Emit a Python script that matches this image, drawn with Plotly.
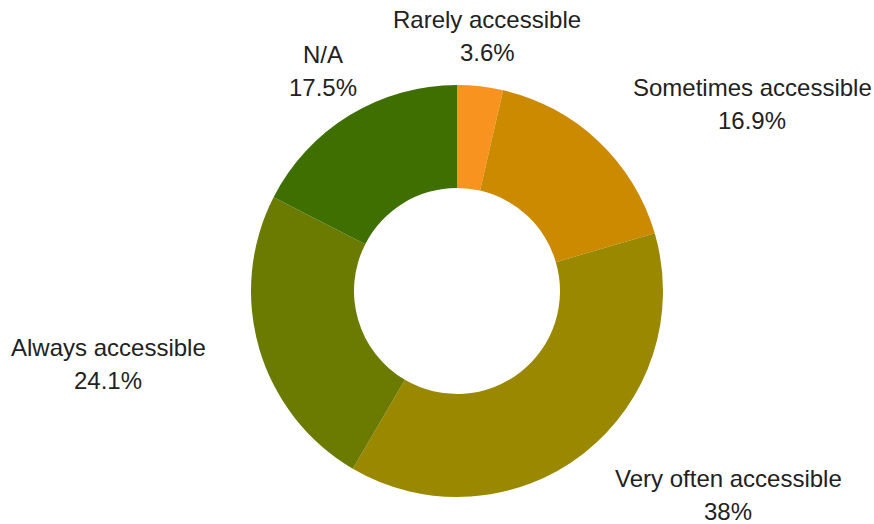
import plotly.graph_objects as go

labels = ["Rarely accessible", "Sometimes accessible", "Very often accessible",
          "Always accessible", "N/A"]
values = [3.6, 16.9, 38, 24.1, 17.5]
colors = ["#F7931E", "#CC8A00", "#998800", "#6B7A00", "#3F6F00"]

W, H = 874, 524
# label block centres in pixels (layout only)
label_pos = [(487, 36), (752, 104), (728, 495), (108, 364), (323, 71)]
line_gap = 33

fig = go.Figure(go.Pie(
    labels=labels, values=values, hole=0.5, sort=False,
    direction="clockwise", rotation=0,
    marker=dict(colors=colors, line=dict(width=0)),
    textinfo="none", hoverinfo="label+percent",
    domain=dict(x=[251 / W, 663 / W], y=[1 - 497 / H, 1 - 85 / H]),
    showlegend=False,
))

font = dict(family="Liberation Sans, Arial", size=24, color="#222222")
for lab, val, (px, py) in zip(labels, values, label_pos):
    for txt, dy in ((lab, -line_gap / 2), (f"{val:g}%", line_gap / 2)):
        fig.add_annotation(
            x=px / W, y=1 - (py + dy) / H, xref="paper", yref="paper",
            text=txt, showarrow=False,
            xanchor="center", yanchor="middle", font=font,
        )

fig.update_layout(
    width=W, height=H, margin=dict(l=0, r=0, t=0, b=0),
    paper_bgcolor="white", plot_bgcolor="white",
)

fig.write_html("out.html", config={"displayModeBar": False},
               post_script="document.body.style.margin='0';")
